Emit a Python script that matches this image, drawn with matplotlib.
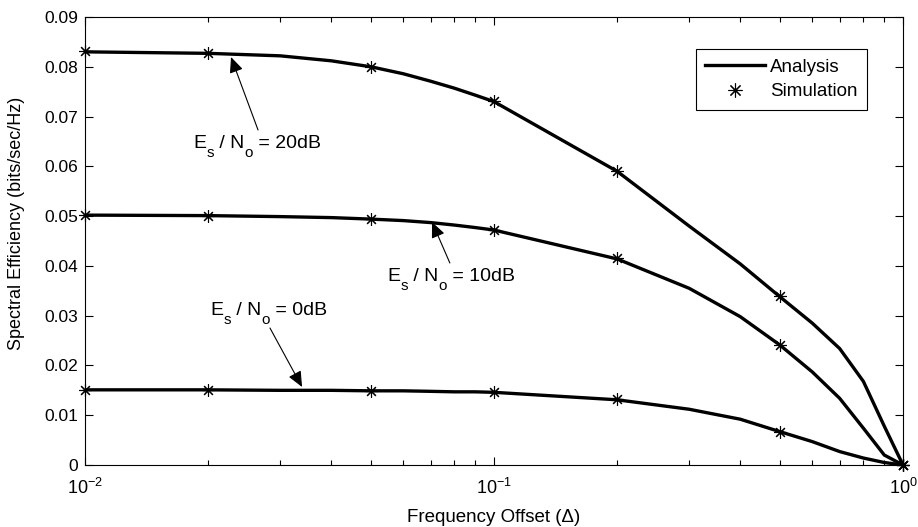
import numpy as np
import matplotlib
matplotlib.use("Agg")
import matplotlib.pyplot as plt
from matplotlib.lines import Line2D
from matplotlib.ticker import FixedLocator, FixedFormatter, LogLocator, NullFormatter

plt.rcParams['font.family'] = ['Liberation Sans', 'DejaVu Sans']
plt.rcParams['mathtext.fontset'] = 'custom'
plt.rcParams['mathtext.rm'] = 'Liberation Sans'
plt.rcParams['mathtext.it'] = 'Liberation Sans:italic'
plt.rcParams['mathtext.bf'] = 'Liberation Sans:bold'

# Frequency offsets for the analytical curves
offset_analysis = [0.01, 0.02, 0.03, 0.04, 0.05, 0.06, 0.07, 0.08, 0.09,
                   0.1, 0.2, 0.3, 0.4, 0.5, 0.6, 0.7, 0.8, 0.9, 1.0]
analysis_20db = [0.0830, 0.0827, 0.0822, 0.0812, 0.0800, 0.0786, 0.0771, 0.0757, 0.0743,
                 0.0730, 0.0590, 0.0480, 0.0404, 0.0338, 0.0285, 0.0234, 0.0168, 0.0078, 0.0]
analysis_10db = [0.0502, 0.0501, 0.0499, 0.0497, 0.0494, 0.0491, 0.0487, 0.0482, 0.0477,
                 0.0472, 0.0414, 0.0355, 0.0298, 0.0241, 0.0187, 0.0134, 0.0074, 0.0020, 0.0]
analysis_0db = [0.0151, 0.0151, 0.0150, 0.0150, 0.0149, 0.0149, 0.0148, 0.0147, 0.0147,
                0.0146, 0.0131, 0.0112, 0.0092, 0.0067, 0.0047, 0.0027, 0.0014, 0.0005, 0.0]

# Frequency offsets for the simulated points
offset_sim = [0.01, 0.02, 0.05, 0.1, 0.2, 0.5, 1.0]
sim_20db = [0.0831, 0.0827, 0.0800, 0.0731, 0.0590, 0.0339, 0.0]
sim_10db = [0.0502, 0.0501, 0.0494, 0.0473, 0.0415, 0.0241, 0.0]
sim_0db = [0.0151, 0.0151, 0.0149, 0.0146, 0.0132, 0.0067, 0.0]

snr_labels = ['20dB', '10dB', '0dB']

y_ticks = [0, 0.01, 0.02, 0.03, 0.04, 0.05, 0.06, 0.07, 0.08, 0.09]
y_tick_labels = ['0', '0.01', '0.02', '0.03', '0.04', '0.05', '0.06', '0.07', '0.08', '0.09']

fig = plt.figure(figsize=(9.18, 5.27), dpi=100)
ax = fig.add_axes([85 / 918, 62 / 527, 818 / 918, 448 / 527])

asterisk = (8, 2, 0)
line_kw = dict(color='k', lw=2.4, solid_joinstyle='miter')
mark_kw = dict(color='k', ls='none', marker=asterisk, ms=9, mew=0.8, clip_on=False, zorder=4)

for ya, ys in [(analysis_20db, sim_20db), (analysis_10db, sim_10db), (analysis_0db, sim_0db)]:
    ax.plot(offset_analysis, ya, **line_kw)
    ax.plot(offset_sim, ys, **mark_kw)

ax.set_xscale('log')
ax.set_xlim(0.01, 1.0)
ax.set_ylim(0, 0.09)
ax.yaxis.set_major_locator(FixedLocator(y_ticks))
ax.yaxis.set_major_formatter(FixedFormatter(y_tick_labels))
ax.xaxis.set_major_locator(LogLocator(base=10, numticks=5))
ax.xaxis.set_minor_locator(LogLocator(base=10, subs=np.arange(2, 10), numticks=20))
ax.xaxis.set_minor_formatter(NullFormatter())

ax.tick_params(which='both', direction='in', top=True, right=True, width=0.8)
ax.tick_params(which='major', length=6)
ax.tick_params(which='minor', length=3.5)
ax.tick_params(axis='y', labelsize=12.5, pad=5)
ax.tick_params(axis='x', labelsize=13, pad=9)
for s in ax.spines.values():
    s.set_linewidth(0.8)

ax.set_xlabel('Frequency Offset (\u0394)', fontsize=13.5, labelpad=8)
ax.set_ylabel('Spectral Efficiency (bits/sec/Hz)', fontsize=13)
ax.yaxis.set_label_coords(-0.0735, 0.54)


def snr_text(x, y, value, size=14, sub_size=11, drop=6.0):
    """Write 'E_s / N_o = value' with lowered subscripts, piece by piece."""
    first = ax.text(x, y, 'E', fontsize=size, ha='left', va='baseline')
    prev = first
    pieces = [('s', True), (' / N', False), ('o', True), (' = ' + value, False)]
    for txt, is_sub in pieces:
        prev = ax.annotate(txt, xy=(1, 0), xycoords=(prev, first),
                           xytext=(0.3 if is_sub else 0, -drop if is_sub else 0),
                           textcoords='offset points',
                           fontsize=sub_size if is_sub else size,
                           ha='left', va='bottom')


# SNR annotations with arrows pointing to each curve
arrow_kw = dict(arrowstyle='-|>,head_length=0.95,head_width=0.42', color='k', lw=0.8,
                shrinkA=0, shrinkB=0, mutation_scale=10)
placements = [
    ((0.01837, 0.06368), (0.02649, 0.06730), (0.02275, 0.08196)),
    ((0.05475, 0.03696), (0.0780, 0.04058), (0.07055, 0.04881)),
    ((0.02021, 0.03013), (0.02833, 0.02752), (0.03394, 0.01567)),
]
for value, (pos, tail, tip) in zip(snr_labels, placements):
    snr_text(pos[0], pos[1], value)
    ax.annotate('', xy=tip, xytext=tail, arrowprops=arrow_kw)

handles = [Line2D([], [], color='k', lw=2.4),
           Line2D([], [], color='k', ls='none', marker=asterisk, ms=10, mew=0.8)]
leg = ax.legend(handles, ['Analysis', 'Simulation'], loc='upper right',
                bbox_to_anchor=((867 - 85) / 818, (465 - 49) / 448), borderaxespad=0,
                fontsize=13.5, handlelength=3.2, handletextpad=0.25, labelspacing=0.42,
                borderpad=0.5, fancybox=False, edgecolor='k', framealpha=1)
leg.get_frame().set_linewidth(0.8)

fig.savefig('out.png', dpi=100)
